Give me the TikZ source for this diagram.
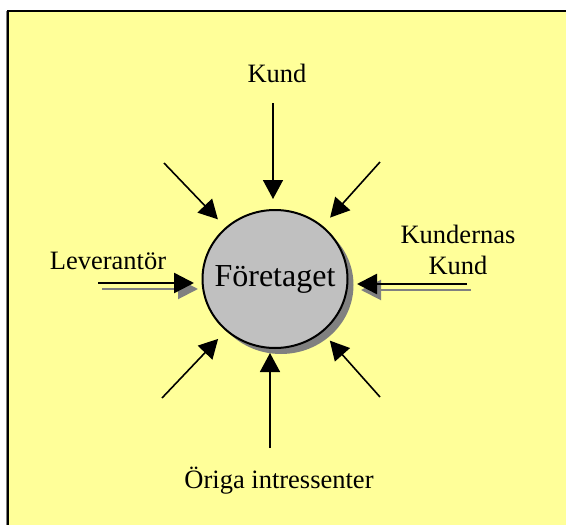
\documentclass[tikz,border=0pt]{standalone}
\usepackage{fontspec}
\setmainfont{Liberation Serif}
\usepackage{tikz}
\usetikzlibrary{arrows.meta,shapes.geometric,calc}

\definecolor{bakgrund}{RGB}{255,255,153}
\definecolor{cirkel}{RGB}{192,192,192}
\definecolor{skugga}{RGB}{128,128,128}

\begin{document}
\begin{tikzpicture}[x=1pt,y=-1pt,
    pil/.style={line width=1.6pt,-{Triangle[length=19pt,width=20pt]}},
    dubbelpil/.style={line width=2.5pt,-{Triangle[length=20pt,width=20pt]}},
    skuggpil/.style={draw=skugga,line width=2pt,-{Triangle[length=20pt,width=20pt,fill=skugga]},
      transform canvas={xshift=4pt,yshift=-6pt}},
    etikett/.style={font=\fontsize{26.5}{31}\selectfont,align=center,inner sep=0pt}
    ]
    \useasboundingbox (0,0) rectangle (566,525);
    \clip (0,0) rectangle (566,525);
    %% ram
    \fill[bakgrund] (7,10) rectangle (600,560);
    \draw[skugga,line width=1pt] (6,11) -- (6,560);
    \draw[line width=2pt] (7.8,560) -- (7.8,10.8) -- (600,10.8);
    %% foretaget
    \fill[skugga] (281,285) ellipse[x radius=72.5,y radius=69];
    \node[ellipse,draw,line width=2pt,fill=cirkel,minimum width=145pt,minimum height=138pt,
      inner sep=0pt] (firma) at (275,279) {};
    \node[font=\fontsize{32}{38}\selectfont,inner sep=0pt] (namn) at (firma.center) {Företaget};
    %% texter
    \node[etikett,anchor=base] (kund) at (277,82) {Kund};
    \node[etikett,anchor=base] (lev) at (108,269) {Leverantör};
    \node[etikett] (kk) at (458,250) {Kundernas\\Kund};
    \node[etikett,anchor=base] (ovr) at (279,488) {Öriga intressenter};
    %% pilar
    \coordinate (topp) at (273,103);
    \coordinate (botten) at (270,448);
    \coordinate (vanster) at (98,283);
    \coordinate (hoger) at (467,284);
    \coordinate (d1) at (164,163);
    \coordinate (d2) at (380,162);
    \coordinate (d3) at (162,398);
    \coordinate (d4) at (380,397);
    \draw[pil,shorten >=10pt] (topp) -- (topp |- firma.north);
    \draw[pil,shorten >=4pt] (botten) -- (botten |- firma.south);
    \foreach \X in {d1,d2,d3,d4}
    {
    \draw[pil,shorten >=11pt] (\X) -- (firma);
    }
    % skuggor
    \draw[skuggpil,shorten >=7.5pt] (vanster) -- (vanster -| firma.west);
    \draw[skuggpil,shorten >=8.5pt] (hoger) -- (hoger -| firma.east);
    \draw[dubbelpil,shorten >=7.5pt] (vanster) -- (vanster -| firma.west);
    \draw[dubbelpil,shorten >=8.5pt] (hoger) -- (hoger -| firma.east);
\end{tikzpicture}
\end{document}
